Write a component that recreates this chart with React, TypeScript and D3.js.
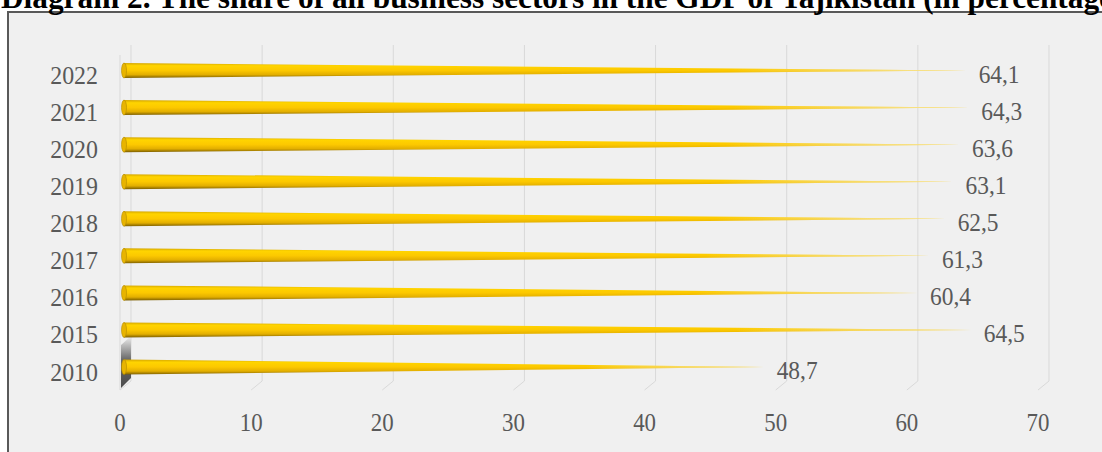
import * as d3 from "d3";

const years = ["2022", "2021", "2020", "2019", "2018", "2017", "2016", "2015", "2010"];
const shares = [64.1, 64.3, 63.6, 63.1, 62.5, 61.3, 60.4, 64.5, 48.7];
const ticks = [0, 10, 20, 30, 40, 50, 60, 70];
const title = "Diagram 2. The share of all business sectors in the GDP of Tajikistan (in percentage)";

const W = 1102;
const H = 452;
// 3D depth offset of the back wall
const depth = { dx: 11, dy: -9 };
const gridTop = 45;
const floorY = 390;

const fmt = (v: number) => v.toFixed(1).replace(".", ",");

export default function App() {
  const x = d3.scaleLinear().domain([0, 70]).range([120, 1038]);
  const y = d3.scalePoint<string>().domain(years).range([70.5, 367]);
  const half = 7.5;
  const mid = depth.dx / 2;

  const labelFont = "'Liberation Serif', 'Times New Roman', serif";
  const wallTop = y("2015")! + 6;

  return (
    <svg
      width={W}
      height={H}
      style={{ position: "absolute", left: 0, top: 0, display: "block", background: "#fff" }}
    >
      <defs>
        <linearGradient id="cone" x1="0" y1="0" x2="0" y2="1">
          <stop offset="0" stopColor="#d4a600" />
          <stop offset="0.18" stopColor="#ffd400" />
          <stop offset="0.5" stopColor="#fcc800" />
          <stop offset="0.78" stopColor="#e2ae00" />
          <stop offset="1" stopColor="#7d5f00" />
        </linearGradient>
        <linearGradient id="fade" x1="0" y1="0" x2="1" y2="0">
          <stop offset="0" stopColor="#f0f0f0" stopOpacity="0" />
          <stop offset="0.72" stopColor="#f0f0f0" stopOpacity="0" />
          <stop offset="1" stopColor="#f6efc8" stopOpacity="0.8" />
        </linearGradient>
        <linearGradient id="wall" x1="0" y1="0" x2="0" y2="1">
          <stop offset="0" stopColor="#f0f0f0" />
          <stop offset="0.45" stopColor="#6a6a6a" />
          <stop offset="1" stopColor="#4a4a4a" />
        </linearGradient>
      </defs>

      {/* frame */}
      <rect x={8} y={12} width={1200} height={600} fill="#f0f0f0" stroke="#595959" strokeWidth={2} />

      {/* title, clipped at the top of the page */}
      <text x={1} y={8} fontFamily={labelFont} fontWeight="bold" fontSize={31.3} fill="#000">
        {title}
      </text>

      {/* gridlines with 3D foot */}
      {ticks.map((t) => {
        const bx = x(t) + depth.dx;
        const by = floorY + depth.dy;
        return (
          <path
            key={t}
            d={`M${bx},${gridTop}V${by}L${x(t)},${floorY}`}
            fill="none"
            stroke="#d9d9d9"
            strokeWidth={1}
          />
        );
      })}
      {/* front edge of the side wall */}
      <line x1={x(0)} x2={x(0)} y1={gridTop - depth.dy + 1} y2={floorY} stroke="#d9d9d9" />

      {/* shaded wall corner */}
      <path
        d={`M${x(0) + 1},${wallTop + 9}L${x(0) + depth.dx},${wallTop}V${floorY - 12}L${x(0) + 1},${floorY - 2}Z`}
        fill="url(#wall)"
      />

      {/* cone bars */}
      {years.map((yr, i) => {
        const c = y(yr)!;
        const x0 = x(0) + mid - 1.5;
        const xt = x(shares[i]) + mid;
        const d = `M${x0},${c - half}L${xt},${c}L${x0},${c + half}Z`;
        return (
          <g key={yr}>
            <path d={d} fill="url(#cone)" />
            <path d={d} fill="url(#fade)" />
            <ellipse cx={x0} cy={c} rx={2.5} ry={half} fill="#e8b400" stroke="#b08a00" strokeWidth={0.6} />
          </g>
        );
      })}

      {/* value labels */}
      {years.map((yr, i) => (
        <text
          key={yr}
          transform={`translate(${x(shares[i]) + 18},${y(yr)! + 12}) scale(0.9,1)`}
          fontFamily={labelFont}
          fontSize={26}
          fill="#595959"
        >
          {fmt(shares[i])}
        </text>
      ))}

      {/* category labels */}
      {years.map((yr) => (
        <text
          key={yr}
          transform={`translate(98,${y(yr)! + 13.5}) scale(0.92,1)`}
          textAnchor="end"
          fontFamily={labelFont}
          fontSize={26}
          fill="#595959"
        >
          {yr}
        </text>
      ))}

      {/* x axis labels */}
      {ticks.map((t) => (
        <text
          key={t}
          transform={`translate(${x(t)},431) scale(0.88,1)`}
          textAnchor="middle"
          fontFamily={labelFont}
          fontSize={26}
          fill="#595959"
        >
          {t}
        </text>
      ))}
    </svg>
  );
}
